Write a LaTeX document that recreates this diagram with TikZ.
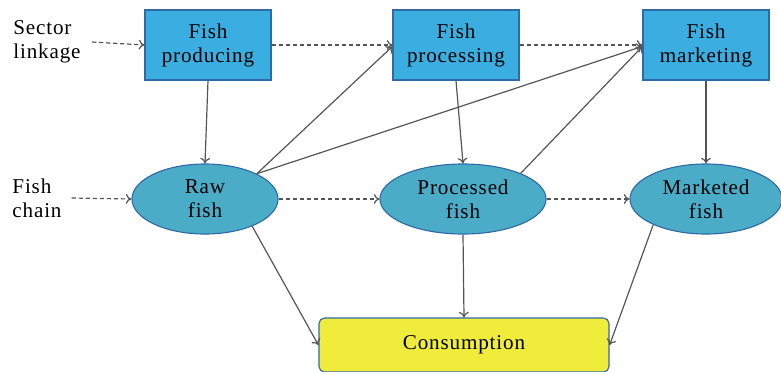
\documentclass[tikz,border=0pt]{standalone}
\usepackage{fontspec}
\setmainfont{Liberation Serif}[LetterSpace=4]
\usetikzlibrary{shapes.geometric,arrows.meta}
\definecolor{boxblue}{HTML}{3AAEE0}
\definecolor{ellblue}{HTML}{4BACC8}
\definecolor{lineblue}{HTML}{2F6AA8}
\definecolor{consyellow}{HTML}{F0EC3C}
\definecolor{arrowgray}{HTML}{555555}
\begin{document}
\begin{tikzpicture}[x=0.025cm,y=-0.025cm, font=\rmfamily,
  sectorbox/.style={draw=lineblue, thick, fill=boxblue, minimum width=3.15cm, minimum height=1.75cm, align=center, inner sep=1pt},
  chainnode/.style={draw=lineblue, thick, ellipse, fill=ellblue, minimum height=1.75cm, align=center, inner sep=1pt},
  lbl/.style={align=left, inner sep=1pt},
  flow/.style={draw=arrowgray, line width=0.85pt, -{To[length=4pt,width=7pt]}},
  link/.style={draw=arrowgray, line width=0.85pt, densely dashed, -{To[length=4pt,width=7pt]}}]
\useasboundingbox (0,0) rectangle (781,371);
\fontsize{15}{17}\selectfont

\node[lbl] (sector) at (47,42) {Sector\\linkage};
\node[lbl] (chain) at (37,198) {Fish\\chain};

\node[sectorbox] (prod) at (208,45) {Fish\\producing};
\node[sectorbox] (proc) at (456,45) {Fish\\processing};
\node[sectorbox] (mark) at (706,45) {Fish\\marketing};

\node[chainnode, minimum width=3.65cm] (raw) at (205,199) {Raw\\fish};
\node[chainnode, minimum width=4.15cm] (pfish) at (463,199) {Processed\\fish};
\node[chainnode, minimum width=3.8cm] (mfish) at (706,199) {Marketed\\fish};

\node[draw=lineblue, thick, fill=consyellow, rounded corners=4pt, minimum width=7.25cm, minimum height=1.35cm] (cons) at (464,345) {Consumption};

\path[link] ([xshift=7pt]sector.east) -- (prod.west);
\path[link] ([xshift=6pt]chain.east) -- (raw.west);
\path[link] (prod.east) -- (proc.west);
\path[link] (proc.east) -- (mark.west);
\path[link] (raw.east) -- (pfish.west);
\path[link] (pfish.east) -- (mfish.west);

\path[flow] (prod.south) -- (raw.north);
\path[flow] (proc.south) -- (pfish.north);
\path[flow] (mark.south) -- (mfish.north);
\path[flow] (raw.26) -- ([yshift=-1pt]proc.west);
\path[flow] (raw.26) -- ([yshift=-1pt]mark.west);
\path[flow] (pfish.24) -- ([yshift=-1pt]mark.west);
\path[flow] (raw.-30) -- (cons.west);
\path[flow] (pfish.south) -- (cons.north);
\path[flow] (mfish.206) -- (cons.east);
\end{tikzpicture}
\end{document}
